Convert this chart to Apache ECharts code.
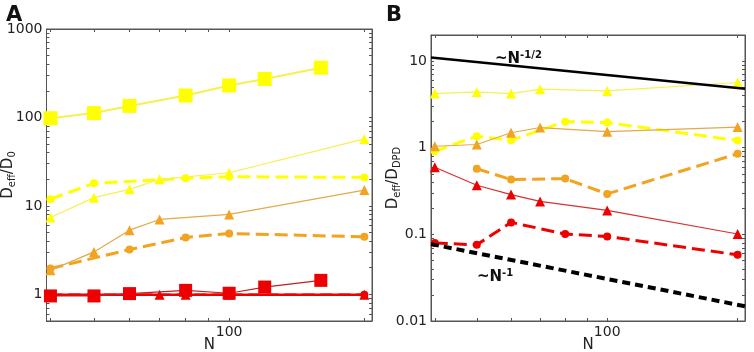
<!DOCTYPE html>
<html>
<head>
<meta charset="utf-8">
<script src="https://cdn.jsdelivr.net/npm/echarts@6/dist/echarts.min.js"></script>
<style>
  html, body { margin: 0; padding: 0; background: #fff; }
  #chart { width: 754px; height: 352px; }
</style>
</head>
<body>
<div id="chart"></div>
<script>
// ---- data ----
// panel A : D_eff / D_0
var nSqA      = [40, 50, 60, 80, 100, 120, 160];
var ySqYellow = [98, 112, 135, 177, 230, 272, 365];
var ySqRed    = [0.96, 0.96, 1.02, 1.11, 1.03, 1.21, 1.44];

var nTriA       = [40, 50, 60, 70, 100, 200];
var yTriYellowA = [7.4, 12.4, 15.4, 20, 23.7, 57.2];
var yTriOrangeA = [1.87, 3.02, 5.32, 7.03, 8.01, 15.1];

var nDashYellowA = [40, 50, 80, 100, 200];
var yDashYellowA = [11.9, 18, 20.5, 21.4, 21];
var nDashOrangeA = [40, 60, 80, 100, 200];
var yDashOrangeA = [1.96, 3.21, 4.39, 4.88, 4.47];

var nTriRedA  = [40, 50, 60, 70, 80, 100, 200];
var yTriRedA  = [0.99, 0.99, 0.99, 0.99, 0.99, 0.99, 0.99];
var nDashRedA = [40, 50, 60, 80, 100, 200];
var yDashRedA = [0.99, 0.99, 0.99, 0.99, 0.99, 0.99];

// panel B : D_eff / D_DPD
var nGuide     = [39.2, 208];
var yHalfGuide = [11.0, 4.78];     // ~N^-1/2
var yOneGuide  = [0.0772, 0.0148]; // ~N^-1

var nTriB       = [40, 50, 60, 70, 100, 200];
var yTriYellowB = [4.22, 4.41, 4.22, 4.74, 4.53, 5.66];
var yTriOrangeB = [1.04, 1.09, 1.49, 1.71, 1.53, 1.73];
var yTriRedB    = [0.596, 0.369, 0.288, 0.240, 0.189, 0.101];

var nDashB       = [40, 50, 60, 80, 100, 200];
var yDashYellowB = [0.91, 1.36, 1.22, 2.0, 1.95, 1.21];
var yDashRedB    = [0.0793, 0.0758, 0.1375, 0.1008, 0.0946, 0.058];
var nDashOrangeB = [50, 60, 80, 100, 200];
var yDashOrangeB = [0.571, 0.43, 0.44, 0.293, 0.852];

// ticks
var xTicks  = [40, 50, 60, 70, 80, 90, 100, 200];
var xLabels = [100];
var yTicksA  = [0.5, 0.6, 0.7, 0.8, 0.9, 1, 2, 3, 4, 5, 6, 7, 8, 9, 10, 20, 30, 40, 50, 60, 70, 80, 90,
                100, 200, 300, 400, 500, 600, 700, 800, 900, 1000];
var yLabelsA = [1, 10, 100, 1000];
var yTicksB  = [0.01, 0.02, 0.03, 0.04, 0.05, 0.06, 0.07, 0.08, 0.09, 0.1, 0.2, 0.3, 0.4, 0.5, 0.6, 0.7, 0.8, 0.9,
                1, 2, 3, 4, 5, 6, 7, 8, 9, 10, 20];
var yLabelsB = [0.01, 0.1, 1, 10];

var YELLOW = '#FFFF00';
var ORANGE = '#F2A320';
var RED = '#EE0000';

function pairs(xs, ys) {
    var out = [];
    for (var i = 0; i < xs.length; i++) out.push([xs[i], ys[i]]);
    return out;
}

function fmt(v) {
    return String(+(+v).toPrecision(6));
}

function xAxisFor(grid, pos) {
    var bottom = pos === 'bottom';
    return {
        gridIndex: grid, type: 'log', position: pos,
        min: 39.2, max: 208,
        name: bottom ? 'N' : '', nameLocation: 'middle', nameGap: 17, nameMoveOverlap: false,
        nameTextStyle: { fontSize: 15, color: '#222', fontFamily: 'DejaVu Sans' },
        axisLine: { show: true, onZero: false, lineStyle: { color: '#555', width: 1 } },
        axisTick: { show: true, inside: true, length: 3, customValues: xTicks, lineStyle: { color: '#555' } },
        axisLabel: { show: bottom, customValues: xLabels, formatter: fmt, margin: 4, fontSize: 14, color: '#222', fontFamily: 'DejaVu Sans' },
        splitLine: { show: false }
    };
}

function yAxisFor(grid, pos, min, max, ticks, labels, nameRich) {
    var left = pos === 'left';
    return {
        gridIndex: grid, type: 'log', position: pos,
        min: min, max: max,
        name: left ? nameRich : '', nameLocation: 'middle', nameGap: left ? 29 : 0, nameMoveOverlap: false,
        nameRotate: 90,
        nameTextStyle: {
            color: '#222', fontFamily: 'DejaVu Sans',
            rich: {
                m: { fontSize: 15, color: '#222', fontFamily: 'DejaVu Sans' },
                s: { fontSize: 10, color: '#222', fontFamily: 'DejaVu Sans', padding: [8, 0, 0, 0] }
            }
        },
        axisLine: { show: true, onZero: false, lineStyle: { color: '#555', width: 1 } },
        axisTick: { show: true, inside: true, length: 3, customValues: ticks, lineStyle: { color: '#555' } },
        axisLabel: { show: left, customValues: labels, formatter: fmt, margin: 4, fontSize: 14, color: '#222', fontFamily: 'DejaVu Sans' },
        splitLine: { show: false }
    };
}

function line(grid, xs, ys, color, opt) {
    return {
        type: 'line', xAxisIndex: grid * 2, yAxisIndex: grid * 2,
        data: pairs(xs, ys),
        symbol: opt.symbol || 'none', symbolSize: opt.size || 0,
        showSymbol: !!opt.symbol,
        itemStyle: { color: color },
        lineStyle: { color: opt.lineColor || color, width: opt.width || 1.2, type: opt.dash || 'solid' },
        z: opt.z || 2,
        animation: false
    };
}

var option = {
    animation: false,
    backgroundColor: '#fff',
    title: [
        { text: 'A', left: 1, top: 0, textStyle: { fontSize: 21, fontWeight: 'bold', color: '#111', fontFamily: 'DejaVu Sans' } },
        { text: 'B', left: 381, top: 0, textStyle: { fontSize: 21, fontWeight: 'bold', color: '#111', fontFamily: 'DejaVu Sans' } }
    ],
    grid: [
        { left: 46.5, top: 29, width: 325.5, height: 292, show: true, borderColor: '#555', borderWidth: 1,
          containLabel: false, outerBoundsMode: 'none' },
        { left: 431, top: 35, width: 314, height: 286, show: true, borderColor: '#555', borderWidth: 1,
          containLabel: false, outerBoundsMode: 'none' }
    ],
    xAxis: [xAxisFor(0, 'bottom'), xAxisFor(0, 'top'), xAxisFor(1, 'bottom'), xAxisFor(1, 'top')],
    yAxis: [
        yAxisFor(0, 'left', 0.5, 1000, yTicksA, yLabelsA, '{m|D}{s|eff}{m|/D}{s|0}'),
        yAxisFor(0, 'right', 0.5, 1000, yTicksA, yLabelsA, ''),
        yAxisFor(1, 'left', 0.01, 20, yTicksB, yLabelsB, '{m|D}{s|eff}{m|/D}{s|DPD}'),
        yAxisFor(1, 'right', 0.01, 20, yTicksB, yLabelsB, '')
    ],
    graphic: [
        {
            type: 'text', left: 495, top: 50,
            style: {
                text: '{a|~N}{b|-1/2}',
                rich: {
                    a: { fontSize: 15, fontWeight: 'bold', fill: '#111', fontFamily: 'DejaVu Sans' },
                    b: { fontSize: 10, fontWeight: 'bold', fill: '#111', fontFamily: 'DejaVu Sans', padding: [0, 0, 8, 0] }
                }
            }
        },
        {
            type: 'text', left: 477, top: 268,
            style: {
                text: '{a|~N}{b|-1}',
                rich: {
                    a: { fontSize: 15, fontWeight: 'bold', fill: '#111', fontFamily: 'DejaVu Sans' },
                    b: { fontSize: 10, fontWeight: 'bold', fill: '#111', fontFamily: 'DejaVu Sans', padding: [0, 0, 8, 0] }
                }
            }
        }
    ],
    series: [
        // panel A
        line(0, nTriRedA, yTriRedA, RED, { symbol: 'triangle', size: 10, width: 2.5 }),
        line(0, nDashRedA, yDashRedA, RED, { symbol: 'circle', size: 8, width: 2.5, dash: [12, 6] }),
        line(0, nSqA, ySqRed, RED, { symbol: 'rect', size: 13, width: 1.2, lineColor: '#C02020', z: 3 }),
        line(0, nDashOrangeA, yDashOrangeA, ORANGE, { symbol: 'circle', size: 8, width: 3, dash: [13, 6] }),
        line(0, nTriA, yTriOrangeA, ORANGE, { symbol: 'triangle', size: 10, width: 1.2, lineColor: '#E3A94A' }),
        line(0, nDashYellowA, yDashYellowA, YELLOW, { symbol: 'circle', size: 8, width: 3, dash: [13, 6] }),
        line(0, nTriA, yTriYellowA, YELLOW, { symbol: 'triangle', size: 10, width: 1.2, lineColor: '#F6F050' }),
        line(0, nSqA, ySqYellow, YELLOW, { symbol: 'rect', size: 14, width: 2, lineColor: '#F6F050' }),
        // panel B
        line(1, nGuide, yHalfGuide, '#000', { width: 2.5, z: 4 }),
        line(1, nGuide, yOneGuide, '#000', { width: 4, dash: [8, 5], z: 4 }),
        line(1, nTriB, yTriYellowB, YELLOW, { symbol: 'triangle', size: 10, width: 1.2, lineColor: '#F6F050' }),
        line(1, nDashB, yDashYellowB, YELLOW, { symbol: 'circle', size: 8, width: 3, dash: [13, 6] }),
        line(1, nTriB, yTriOrangeB, ORANGE, { symbol: 'triangle', size: 10, width: 1.2, lineColor: '#E3A94A' }),
        line(1, nDashOrangeB, yDashOrangeB, ORANGE, { symbol: 'circle', size: 8, width: 3, dash: [13, 6] }),
        line(1, nTriB, yTriRedB, RED, { symbol: 'triangle', size: 10, width: 1.2, lineColor: '#D83030' }),
        line(1, nDashB, yDashRedB, RED, { symbol: 'circle', size: 8, width: 3, dash: [13, 6] })
    ]
};

var chart = echarts.init(document.getElementById('chart'), null, { renderer: 'canvas' });
chart.setOption(option);
</script>
</body>
</html>
